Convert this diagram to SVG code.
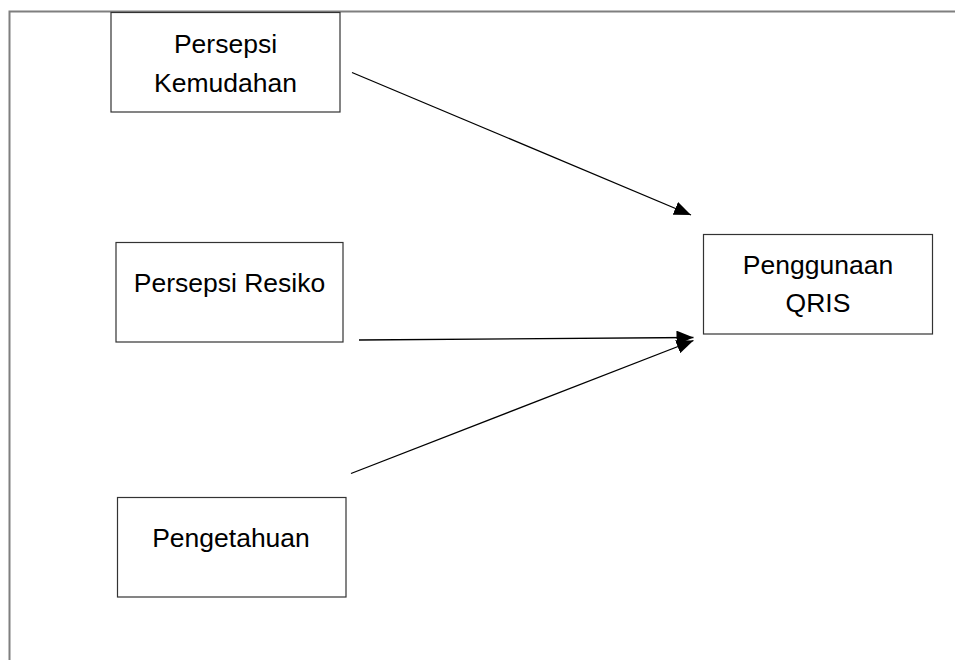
<svg xmlns="http://www.w3.org/2000/svg" width="955" height="660" viewBox="0 0 955 660">
<defs>
<style>
.frame{fill:none;stroke:#7f7f7f;stroke-width:2}
.box{fill:#fff;stroke:#333;stroke-width:1.2}
.lbl{font-family:"Liberation Sans",Arial,sans-serif;font-size:26.5px;fill:#000;text-anchor:middle}
.conn{stroke:#000;stroke-width:1.3;fill:none;marker-end:url(#ah)}
</style>
<marker id="ah" markerWidth="17" markerHeight="14" refX="17" refY="7" orient="auto" markerUnits="userSpaceOnUse">
<path d="M0,0 L17,7 L0,14 Z" fill="#000"/>
</marker>
</defs>
<rect width="955" height="660" fill="#fff"/>
<g id="frame">
<path class="frame" d="M9.5,660 V11.5 H955"/>
</g>
<g id="node-kemudahan">
<rect class="box" x="111" y="12.5" width="229" height="99.5"/>
<text class="lbl" x="225.5" y="52.5">Persepsi</text>
<text class="lbl" x="225.5" y="92">Kemudahan</text>
</g>
<g id="node-resiko">
<rect class="box" x="116" y="242.5" width="227" height="99.5"/>
<text class="lbl" x="229.5" y="292">Persepsi Resiko</text>
</g>
<g id="node-pengetahuan">
<rect class="box" x="117.5" y="497.5" width="228.5" height="99.5"/>
<text class="lbl" x="231" y="547">Pengetahuan</text>
</g>
<g id="node-qris">
<rect class="box" x="703.5" y="234.5" width="229" height="99.5"/>
<text class="lbl" x="818" y="274">Penggunaan</text>
<text class="lbl" x="818" y="312">QRIS</text>
</g>
<g id="connectors">
<line class="conn" x1="352" y1="72.5" x2="691" y2="215"/>
<line class="conn" x1="359" y1="340" x2="693.5" y2="337.5"/>
<line class="conn" x1="351" y1="473.5" x2="693.5" y2="340.5"/>
</g>
</svg>
